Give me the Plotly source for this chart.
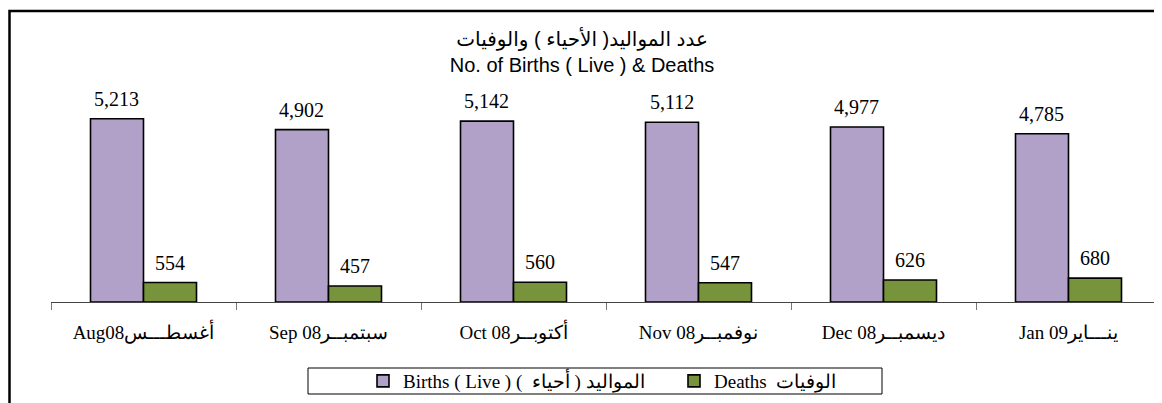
import plotly.graph_objects as go

categories = ["Aug08أغسطـــس", "Sep 08سبتمبــر", "Oct 08أكتوبــر",
              "Nov 08نوفمبــر", "Dec 08ديسمبــر", "Jan 09ينـــاير"]
births = [5213, 4902, 5142, 5112, 4977, 4785]
deaths = [554, 457, 560, 547, 626, 680]
births_name = "Births ( Live ) (  المواليد ( أحياء"
deaths_name = "Deaths  الوفيات"
title_ar = "عدد المواليد( الأحياء ) والوفيات"
title_en = "No. of Births ( Live ) & Deaths"

SERIF = "Liberation Serif, Times New Roman, serif"
SANS = "Liberation Sans, Arial, DejaVu Sans, sans-serif"

# the page body adds an 8px offset; layout is expressed in figure coordinates
L, R_EDGE, TOP, BASE = 43, 1153, 83, 294
PW, PH = R_EDGE - L, BASE - TOP

fig = go.Figure()
fig.add_trace(go.Bar(
    x=categories, y=births, name=births_name,
    marker=dict(color="#B1A0C7", line=dict(color="black", width=1.6)),
))
fig.add_trace(go.Bar(
    x=categories, y=deaths, name=deaths_name,
    marker=dict(color="#77933C", line=dict(color="black", width=1.6)),
))

bar_off = 0.5 * (1 - 0.427) / 2 * PW / len(categories)
annotations = []
for series, sgn in ((births, -1), (deaths, 1)):
    for c, v in zip(categories, series):
        annotations.append(dict(
            x=c, y=v, xref="x", yref="y", text=f"{v:,}", showarrow=False,
            xshift=sgn * bar_off, yshift=20, yanchor="middle",
            font=dict(family=SERIF, size=20, color="black")))

fig.update_layout(
    width=1162, height=403,
    margin=dict(l=L, r=1162 - R_EDGE, t=TOP, b=403 - BASE),
    paper_bgcolor="white", plot_bgcolor="white",
    barmode="group", bargap=0.427, bargroupgap=0,
    title=dict(text=title_ar + "<br>" + title_en, x=0.494, xref="container",
               xanchor="center", y=1 - 37.5 / 403, yref="container", yanchor="middle",
               font=dict(family=SANS, size=20, color="black")),
    xaxis=dict(showline=True, linecolor="#444", linewidth=1,
               ticks="outside", tickson="boundaries", ticklen=7, tickcolor="#777",
               tickfont=dict(family=SERIF, size=19, color="black"),
               ticklabelstandoff=13, showgrid=False, zeroline=False),
    yaxis=dict(range=[0, 6000], visible=False, showgrid=False, zeroline=False),
    showlegend=True,
    legend=dict(orientation="h", x=(375 - L - 20) / PW, xanchor="left",
                y=-(373 - BASE) / PH, yanchor="middle",
                bgcolor="rgba(0,0,0,0)", borderwidth=0,
                font=dict(family=SERIF, size=19, color="black"),
                entrywidth=266, entrywidthmode="pixels", itemwidth=30,
                traceorder="normal"),
    annotations=annotations,
    shapes=[
        dict(type="rect", xref="paper", yref="paper",
             x0=(300 - L) / PW, x1=(874 - L) / PW,
             y0=-(386 - BASE) / PH, y1=-(360 - BASE) / PH,
             line=dict(color="black", width=1), fillcolor="rgba(0,0,0,0)"),
        dict(type="rect", xref="paper", yref="paper",
             x0=(1.5 - L) / PW, x1=1.05,
             y0=-0.6, y1=1 + (TOP - 3) / PH,
             line=dict(color="black", width=2.5), fillcolor="rgba(0,0,0,0)"),
    ],
)

fig.write_html("out.html")
